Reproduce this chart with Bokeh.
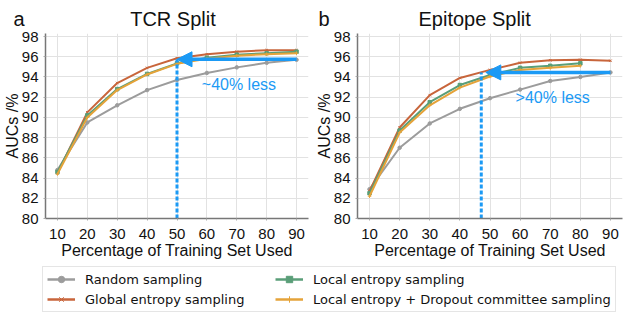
from bokeh.plotting import figure
from bokeh.layouts import column, row
from bokeh.models import (Range1d, Arrow, NormalHead, Legend, LegendItem, Label,
                          FixedTicker, ColumnDataSource)
from bokeh.embed import file_html
from bokeh.resources import INLINE

# ---------------- data ----------------
pct = [10, 20, 30, 40, 50, 60, 70, 80, 90]
pct_short = [10, 20, 30, 40, 50, 60, 70, 80]

tcr_random = [84.8, 89.5, 91.2, 92.7, 93.7, 94.4, 94.95, 95.4, 95.7]
tcr_global = [84.5, 90.5, 93.4, 94.9, 95.85, 96.25, 96.5, 96.65, 96.65]
tcr_local = [84.6, 90.2, 92.8, 94.3, 95.35, 95.9, 96.2, 96.35, 96.5]
tcr_dropout = [84.4, 90.0, 92.7, 94.25, 95.3, 95.8, 96.1, 96.25, 96.35]

epi_random = [82.9, 87.0, 89.4, 90.85, 91.9, 92.75, 93.6, 94.0, 94.45]
epi_global = [82.7, 89.0, 92.2, 93.9, 94.7, 95.4, 95.65, 95.7, 95.6]
epi_local = [82.5, 88.7, 91.5, 93.2, 94.2, 94.9, 95.1, 95.35]
epi_dropout = [82.2, 88.5, 91.2, 92.95, 94.05, 94.7, 94.9, 95.1]

panel_titles = ["TCR Split", "Epitope Split"]
panel_letters = ["a", "b"]
arrow_y = [95.75, 94.45]
arrow_start_x = [90, 90]
arrow_tip_x = [50, 48.6]
vline_x = [50, 47.1]
note_texts = ["~40% less", ">40% less"]
note_x = [58.3, 58.5]
note_y = [93.3, 92.0]

series_names = ["Random sampling", "Global entropy sampling",
                "Local entropy sampling", "Local entropy + Dropout committee sampling"]
series_colors = ["#9c9c9c", "#c8653b", "#5a9e78", "#e5a33a"]
series_markers = ["circle", "x", "square", "cross"]

x_ticks = [10, 20, 30, 40, 50, 60, 70, 80, 90]
y_ticks = [80, 82, 84, 86, 88, 90, 92, 94, 96, 98]

FONT = "Liberation Sans"
BLUE = "#1b9af5"
NBSP = "\u00a0"
TITLE_GAP = [19, 16]      # number of spaces between panel letter and title
TITLE_OFFSET = [-32, -39]  # shift of the title line (pixels)


def make_panel(idx, series, width, border_right):
    p = figure(width=width, height=262, output_backend="svg", toolbar_location=None,
               x_range=Range1d(6, 94), y_range=Range1d(80, 98.3),
               min_border_left=40, min_border_right=border_right,
               min_border_top=33, min_border_bottom=44)
    p.title.text = panel_letters[idx] + NBSP * TITLE_GAP[idx] + panel_titles[idx]
    p.title.align = "left"
    p.title.offset = TITLE_OFFSET[idx]
    p.title.text_font = FONT
    p.title.text_font_size = "20px"
    p.title.text_font_style = "normal"
    p.title.text_color = "#111111"
    p.title.standoff = 8
    p.outline_line_color = None
    p.background_fill_color = "white"

    p.xaxis.ticker = FixedTicker(ticks=x_ticks)
    p.yaxis.ticker = FixedTicker(ticks=y_ticks)
    for ax in (p.xaxis[0], p.yaxis[0]):
        ax.major_label_text_font = FONT
        ax.major_label_text_font_size = "15px"
        ax.major_label_text_color = "#111111"
        ax.axis_label_text_font = FONT
        ax.axis_label_text_font_style = "normal"
        ax.axis_label_text_color = "#111111"
        ax.axis_line_color = "#777777"
        ax.axis_line_width = 1.5
        ax.major_tick_in = 0
        ax.major_tick_out = 2
        ax.major_tick_line_color = "#aaaaaa"
        ax.minor_tick_line_color = None
    p.xaxis.axis_label = "Percentage of Training Set Used"
    p.xaxis.axis_label_text_font_size = "16px"
    p.xaxis.major_label_standoff = 8
    p.xaxis.axis_label_standoff = 0
    p.yaxis.axis_label = "AUCs /%"
    p.yaxis.axis_label_text_font_size = "16px"
    p.yaxis.major_label_standoff = 5
    p.yaxis.axis_label_standoff = -2
    p.xgrid.grid_line_color = "#e2e2e2"
    p.ygrid.grid_line_color = "#e2e2e2"

    for k, (xs, ys) in enumerate(series):
        src = ColumnDataSource(dict(x=xs, y=ys))
        p.line("x", "y", source=src, line_color=series_colors[k], line_width=2)
        p.scatter("x", "y", source=src, marker=series_markers[k], size=3.5,
                  line_color=series_colors[k], fill_color=series_colors[k])

    # dotted vertical line
    p.segment(x0=[vline_x[idx]], y0=[80], x1=[vline_x[idx]], y1=[arrow_y[idx]],
              line_color=BLUE, line_width=3, line_dash="4 2")
    # arrow
    p.add_layout(Arrow(x_start=arrow_start_x[idx], y_start=arrow_y[idx],
                       x_end=arrow_tip_x[idx], y_end=arrow_y[idx],
                       line_color=BLUE, line_width=3.5,
                       end=NormalHead(size=15, fill_color=BLUE, line_color=BLUE,
                                      line_width=1)))
    p.add_layout(Label(x=note_x[idx], y=note_y[idx], text=note_texts[idx],
                       text_font=FONT, text_font_size="16px", text_color=BLUE,
                       text_baseline="middle", text_align="left"))
    return p


p1 = make_panel(0, [(pct, tcr_random), (pct, tcr_global), (pct, tcr_local),
                    (pct, tcr_dropout)], 312, 4)
p2 = make_panel(1, [(pct, epi_random), (pct, epi_global), (pct_short, epi_local),
                    (pct_short, epi_dropout)], 312, 2)

# legend figure
pl = figure(width=624, height=52, output_backend="svg", toolbar_location=None,
            x_range=Range1d(0, 1), y_range=Range1d(0, 1),
            min_border=0)
pl.axis.visible = False
pl.grid.visible = False
pl.outline_line_color = None
items = []
all_series = [tcr_random, tcr_global, tcr_local, tcr_dropout]
for k, ys in enumerate(all_series):
    src = ColumnDataSource(dict(x=pct, y=ys))
    r1 = pl.line("x", "y", source=src, line_color=series_colors[k], line_width=2.5)
    r2 = pl.scatter("x", "y", source=src, marker=series_markers[k], size=4,
                    line_color=series_colors[k], fill_color=series_colors[k])
    items.append(LegendItem(label=series_names[k], renderers=[r1, r2]))
legend = Legend(items=items, location=(42, 2), orientation="vertical", nrows=2,
                glyph_width=28, glyph_height=16, label_height=16, label_width=186,
                label_standoff=10, spacing=4, padding=4,
                label_text_font="DejaVu Sans", label_text_font_size="13px",
                label_text_color="#111111",
                border_line_color="#cccccc", border_line_width=1,
                background_fill_alpha=1.0)
pl.add_layout(legend)

layout = column(row(p1, p2), pl)
open("out.html", "w").write(file_html(layout, INLINE))
